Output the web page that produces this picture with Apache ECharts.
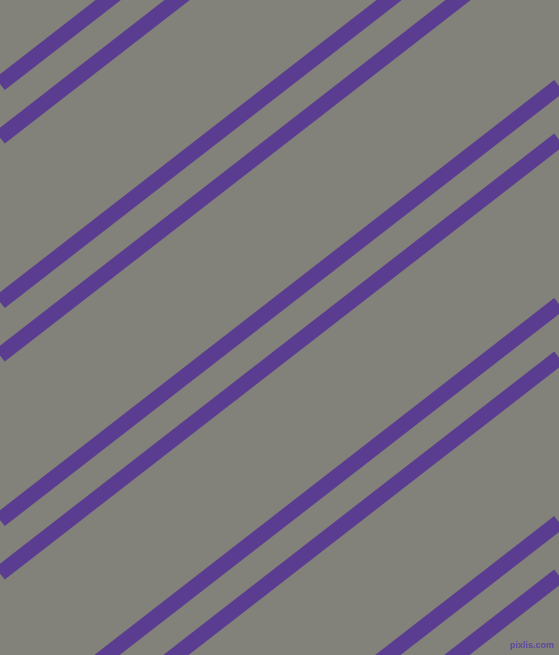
<!DOCTYPE html>
<html>
<head>
<meta charset="utf-8">
<script src="https://cdn.jsdelivr.net/npm/echarts@6/dist/echarts.min.js"></script>
<style>
html,body{margin:0;padding:0;background:#82817a;}
#chart{width:559px;height:655px;}
</style>
</head>
<body>
<div id="chart"></div>
<script>
// Pattern values (pixel units of the canvas)
const widthRange = [0, 559];
const heightRange = [0, 655];
const slope = 0.776;                 // drop in y per unit x (lines rise to the right)
const intercepts = [84, 137.5, 302, 355.5, 520, 573.5, 738, 791.5, 956, 1009.5]; // y at x = 0
const stripeColor = '#5a3c90';
const backColor = '#82817a';
const watermark = 'pixlis.com';

const series = intercepts.map(function (b, i) {
  return {
    type: 'line',
    name: 'stripe' + i,
    data: [[widthRange[0], b - slope * widthRange[0]], [widthRange[1], b - slope * widthRange[1]]],
    symbol: 'none',
    clip: true,
    silent: true,
    lineStyle: { color: stripeColor, width: 15.5, cap: 'butt' },
    animation: false
  };
});

const chart = echarts.init(document.getElementById('chart'), null, { renderer: 'canvas' });
chart.setOption({
  backgroundColor: backColor,
  animation: false,
  grid: { left: 0, right: 0, top: 0, bottom: 0 },
  xAxis: { type: 'value', min: widthRange[0], max: widthRange[1], show: false, splitLine: { show: false } },
  yAxis: { type: 'value', min: heightRange[0], max: heightRange[1], inverse: true, show: false, splitLine: { show: false } },
  title: {
    text: watermark,
    right: 5,
    bottom: 5,
    padding: 0,
    textStyle: { color: '#5e48a0', fontSize: 9, fontWeight: 'bold', fontFamily: 'Liberation Sans' }
  },
  series: series
});
</script>
</body>
</html>
